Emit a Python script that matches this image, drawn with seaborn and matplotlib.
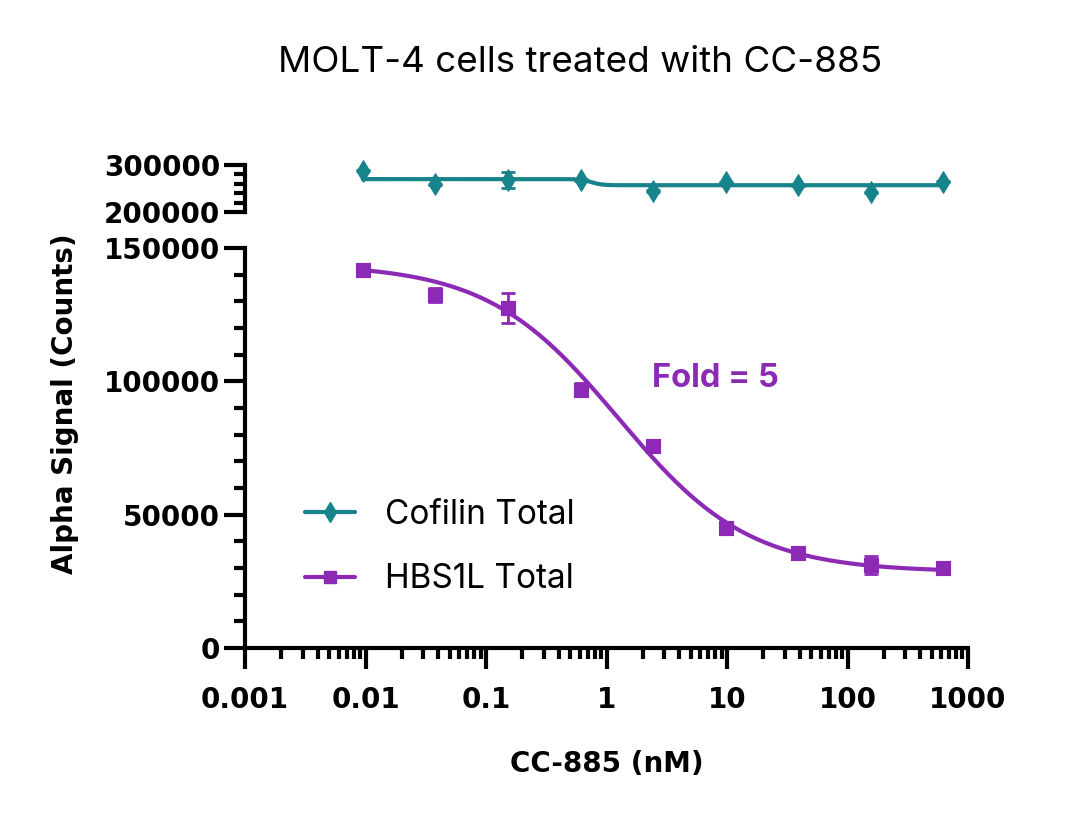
import numpy as np
import matplotlib
matplotlib.use("Agg")
import matplotlib.pyplot as plt
import seaborn as sns
from matplotlib.lines import Line2D
from matplotlib.ticker import MultipleLocator, LogLocator, NullFormatter

# CC-885 concentrations (nM), 4-fold dilution series
conc = [0.0095, 0.038, 0.153, 0.61, 2.44, 9.77, 39.1, 156.25, 625]

# Cofilin Total (upper segment)
cofilin = [288000, 259000, 268000, 268000, 245000, 263000, 257000, 242000, 264500]
cofilin_err = [1500, 1500, 17000, 1500, 1500, 1500, 1500, 1500, 1500]

# HBS1L Total (lower segment)
hbs1l = [141700, 132400, 127400, 96900, 75700, 44900, 35500, 31100, 29900]
hbs1l_err = [1000, 2500, 5600, 2500, 1000, 1000, 1000, 3400, 1000]

# 4PL fit parameters: top, bottom, ec50, hill
cofilin_fit = (270000, 257000, 0.75, 10.0)
hbs1l_fit = (144000, 28500, 1.25, 0.8)

x_ticks = [0.001, 0.01, 0.1, 1, 10, 100, 1000]
x_labels = ["0.001", "0.01", "0.1", "1", "10", "100", "1000"]

teal = "#17838A"
purple = "#8C2AB5"

sns.set_theme(style="ticks")
plt.rcParams["font.family"] = ["DejaVu Sans"]
plt.rcParams.update({"text.color": "black", "axes.labelcolor": "black",
                     "xtick.color": "black", "ytick.color": "black",
                     "axes.edgecolor": "black"})

fig = plt.figure(figsize=(10.8, 8.18), dpi=100)
ax = fig.add_axes([0.2269, 0.2078, 0.6694, 0.4890])
ax_top = fig.add_axes([0.2269, 0.7408, 0.6694, 0.0575], sharex=ax)


def four_pl(x, top, bottom, ec50, hill):
    return bottom + (top - bottom) / (1 + (x / ec50) ** hill)


x_fit = np.logspace(np.log10(conc[0]), np.log10(conc[-1]), 400)

# fitted curves
sns.lineplot(x=x_fit, y=four_pl(x_fit, *hbs1l_fit), ax=ax, color=purple, lw=3)
sns.lineplot(x=x_fit, y=four_pl(x_fit, *cofilin_fit), ax=ax_top, color=teal, lw=3)

# points with error bars
ax.errorbar(conc, hbs1l, yerr=hbs1l_err, fmt="none", ecolor=purple,
            elinewidth=2, capsize=5, capthick=2, zorder=3)
sns.scatterplot(x=conc, y=hbs1l, ax=ax, color=purple, marker="s", s=105,
                edgecolor=purple, zorder=4, clip_on=False)
ax_top.errorbar(conc, cofilin, yerr=cofilin_err, fmt="none", ecolor=teal,
                elinewidth=2, capsize=5, capthick=2, zorder=3, clip_on=False)
sns.scatterplot(x=conc, y=cofilin, ax=ax_top, color=teal, marker="d", s=120,
                edgecolor=teal, zorder=4, clip_on=False)

tick_font = dict(fontsize=20, fontweight="bold", family="DejaVu Sans")

# lower axes
ax.set_xscale("log")
ax.set_xlim(0.001, 1000)
ax.set_ylim(0, 150000)
ax.set_xticks(x_ticks)
ax.set_xticklabels(x_labels, **tick_font)
ax.xaxis.set_minor_locator(LogLocator(base=10, subs=np.arange(2, 10)))
ax.xaxis.set_minor_formatter(NullFormatter())
ax.set_yticks([0, 50000, 100000, 150000])
ax.set_yticklabels(["0", "50000", "100000", "150000"], **tick_font)
ax.yaxis.set_minor_locator(MultipleLocator(10000))
for side in ["top", "right"]:
    ax.spines[side].set_visible(False)
for side in ["left", "bottom"]:
    ax.spines[side].set_linewidth(3)
ax.tick_params(which="major", length=15, width=3)
ax.tick_params(axis="x", which="major", pad=12)
ax.tick_params(axis="y", which="major", pad=3)
ax.tick_params(which="minor", length=8, width=3)

# upper axes
ax_top.set_ylim(200000, 300000)
ax_top.set_yticks([200000, 300000])
ax_top.set_yticklabels(["200000", "300000"], **tick_font)
ax_top.yaxis.set_minor_locator(MultipleLocator(20000))
for side in ["top", "right", "bottom"]:
    ax_top.spines[side].set_visible(False)
ax_top.spines["left"].set_linewidth(3)
ax_top.tick_params(axis="x", which="both", bottom=False, labelbottom=False)
ax_top.tick_params(axis="y", which="major", length=15, width=3, pad=3)
ax_top.tick_params(axis="y", which="minor", length=8, width=3)
ax_top.set_facecolor("none")
ax.set_facecolor("none")

ax.set_xlabel("CC-885 (nM)", fontsize=20, fontweight="bold", labelpad=26)
ax.set_ylabel("Alpha Signal (Counts)", fontsize=20, fontweight="bold")
ax.yaxis.set_label_coords(-0.23, 0.61)

fig.text(0.537, 0.924, "MOLT-4 cells treated with CC-885", ha="center",
         va="center", fontsize=26.5, family="Inter")

ax.text(0.563, 0.653, "Fold = 5", transform=ax.transAxes, color=purple,
        fontsize=23.5, fontweight="bold", family="Inter")

handles = [
    Line2D([0], [0], color=teal, lw=3, marker="d", markersize=10),
    Line2D([0], [0], color=purple, lw=3, marker="s", markersize=9),
]
ax.legend(handles, ["Cofilin Total", "HBS1L Total"], loc="center left",
          bbox_to_anchor=(0.083, 0.252), frameon=False, handlelength=1.5,
          handletextpad=0.9, labelspacing=0.97, borderpad=0, borderaxespad=0,
          prop=dict(family="Inter", size=24))

fig.savefig("out.png", dpi=100)
